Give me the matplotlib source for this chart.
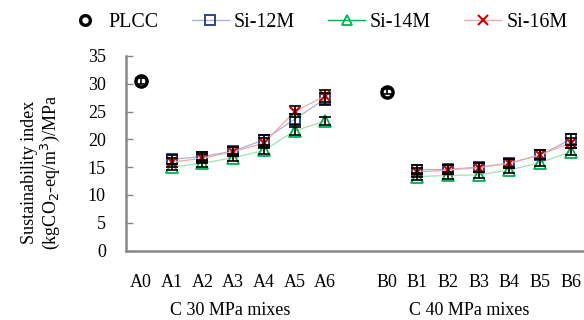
import numpy as np
import matplotlib
matplotlib.use("Agg")
import matplotlib.pyplot as plt
from matplotlib.lines import Line2D

nan = np.nan
labels = ['A0', 'A1', 'A2', 'A3', 'A4', 'A5', 'A6', '',
          'B0', 'B1', 'B2', 'B3', 'B4', 'B5', 'B6']
groups = ['C 30 MPa mixes', 'C 40 MPa mixes']
plcc = [30.5, nan, nan, nan, nan, nan, nan, nan, 28.6, nan, nan, nan, nan, nan, nan]
plcc_err = [0.5, nan, nan, nan, nan, nan, nan, nan, 0.5, nan, nan, nan, nan, nan, nan]
si12 = [nan, 16.4, 16.9, 17.9, 19.9, 23.6, 27.3, nan, nan, 14.5, 14.6, 15.0, 15.7, 17.2, 20.0]
si14 = [nan, 15.0, 15.7, 16.7, 18.0, 21.5, 23.3, nan, nan, 13.3, 13.5, 13.6, 14.5, 15.8, 17.8]
si16 = [nan, 15.9, 16.6, 17.8, 19.3, 25.0, 27.8, nan, nan, 14.1, 14.5, 14.9, 15.7, 17.2, 19.4]
err12 = [nan, 0.8, 0.8, 0.8, 0.9, 1.0, 1.1, nan, nan, 0.8, 0.8, 0.8, 0.8, 0.8, 1.0]
err14 = [nan, 0.6, 0.6, 0.6, 0.6, 0.7, 0.8, nan, nan, 0.6, 0.6, 0.6, 0.6, 0.6, 0.7]
err16 = [nan, 0.8, 0.8, 0.8, 0.9, 1.0, 1.0, nan, nan, 0.8, 0.8, 0.8, 0.8, 0.8, 0.9]

plt.rcParams['font.family'] = ['Liberation Serif', 'DejaVu Serif']
fig = plt.figure(figsize=(5.84, 3.2), dpi=100)
ax = fig.add_axes([126/584, (320-250.5)/320, 1 - 126/584, (250.5-56)/320])
x = np.arange(len(labels))

s12 = dict(color='#a7b3d3', marker='s', mec='#1f3a7d', mfc='none', ms=7.5, mew=1.3, lw=0.9)
s14 = dict(color='#9fe0b5', marker='^', mec='#00b050', mfc='none', ms=8, mew=1.3, lw=0.9)
s16 = dict(color='#f4a9a9', marker='x', mec='#d40000', ms=7.5, mew=1.6, lw=0.9)

ax.plot(x, si14, zorder=2, **s14)
ax.plot(x, si12, zorder=2, **s12)
ax.plot(x, si16, zorder=3, **s16)
ax.plot(x, plcc, ls='none', marker='o', mfc='none', mec='black', ms=8, mew=2.5, zorder=3)

eb = dict(fmt='none', ecolor='black', elinewidth=1.2, capsize=4.5, capthick=1.2, zorder=4)
ax.errorbar(x, si12, yerr=err12, **eb)
ax.errorbar(x, si14, yerr=err14, **eb)
ax.errorbar(x, si16, yerr=err16, **eb)
ax.errorbar(x, plcc, yerr=plcc_err, **eb)

ax.set_xlim(-0.49, 14.43)
ax.set_ylim(0, 35)
ax.set_yticks(np.arange(0, 36, 5))
ax.set_xticks(x)
ax.set_xticklabels(labels)
ax.tick_params(axis='x', length=0, pad=17, labelsize=13)
ax.tick_params(axis='y', direction='in', length=5, width=1, color='#888888', pad=14.5, labelsize=13)
for s in ['top', 'right']:
    ax.spines[s].set_visible(False)
for s in ['left', 'bottom']:
    ax.spines[s].set_color('#888888')
    ax.spines[s].set_linewidth(1.8)

ax.text(2.9, -10.8, groups[0], ha='center', va='center', fontsize=13)
ax.text(10.7, -10.8, groups[1], ha='center', va='center', fontsize=13)

fig.text(30/584, 1 - 172/320, 'Sustainability index', rotation=90, ha='center', va='center', fontsize=13)
fig.text(50/584, 1 - 172/320, '(kgCO$_2$-eq/m$^3$)/MPa', rotation=90, ha='center', va='center', fontsize=13)

handles = [
    Line2D([], [], ls='none', marker='o', mfc='none', mec='black', ms=7, mew=2.4),
    Line2D([], [], color='#a7b3d3', marker='s', mec='#1f3a7d', mfc='none', ms=7, mew=1.3, lw=1),
    Line2D([], [], color='#00b050', marker='^', mec='#00b050', mfc='none', ms=7, mew=1.3, lw=1),
    Line2D([], [], color='#f4a9a9', marker='x', mec='#d40000', ms=7, mew=1.5, lw=1),
]
fig.legend(handles, ['PLCC', 'Si-12M', 'Si-14M', 'Si-16M'], loc='center',
           bbox_to_anchor=(317/584, 1 - 22.7/320), ncol=4, frameon=False, fontsize=14.4,
           handlelength=1.85, columnspacing=1.65, handletextpad=0.25, borderpad=0, borderaxespad=0)

fig.savefig('out.png', dpi=100)
